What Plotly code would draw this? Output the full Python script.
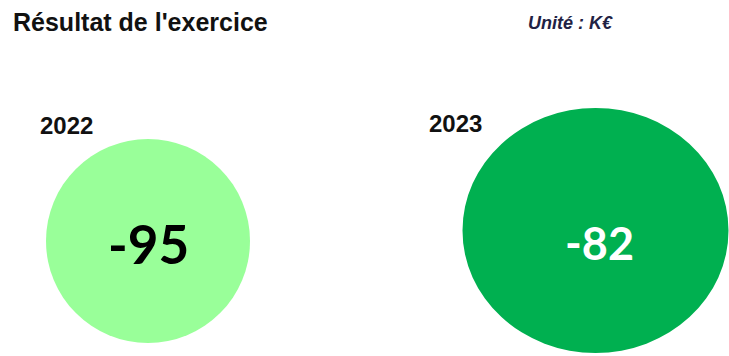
import plotly.graph_objects as go

years = ["2022", "2023"]
values = [-95, -82]
fill_colors = ["#99FF99", "#00B050"]
value_colors = ["#000000", "#FFFFFF"]
title_text = "Résultat de l'exercice"
unit_text = "Unité : K€"

W, H = 729, 356
# bubble geometry (pixel space): cx, cy, rx, ry
geom = [(148, 241, 102, 102), (595.5, 230.5, 133, 122.5)]
year_pos = [(66, 125), (455, 123)]
value_pos = [(148, 243), (599, 243)]
value_sizes = [53, 45]

fig = go.Figure()
shapes = []
annotations = []
for i, (yr, v) in enumerate(zip(years, values)):
    cx, cy, rx, ry = geom[i]
    shapes.append(dict(type="circle", xref="x", yref="y",
                       x0=cx - rx, x1=cx + rx, y0=cy - ry, y1=cy + ry,
                       fillcolor=fill_colors[i], line=dict(width=0), layer="below"))
    annotations.append(dict(x=value_pos[i][0], y=value_pos[i][1], xref="x", yref="y",
                            text=f"<b>{v}</b>",
                            showarrow=False, xanchor="center", yanchor="middle",
                            font=dict(family="Lato", size=value_sizes[i], color=value_colors[i])))
    annotations.append(dict(x=year_pos[i][0], y=year_pos[i][1], xref="x", yref="y",
                            text=f"<b>{yr}</b>", showarrow=False,
                            xanchor="center", yanchor="middle",
                            font=dict(family="Liberation Sans", size=24, color="#111111")))

annotations.append(dict(x=11, y=22, xref="x", yref="y", text=f"<b>{title_text}</b>",
                        showarrow=False, xanchor="left", yanchor="middle",
                        font=dict(family="Liberation Sans", size=25, color="#111111")))
annotations.append(dict(x=570, y=23, xref="x", yref="y", text=f"<b><i>{unit_text}</i></b>",
                        showarrow=False, xanchor="center", yanchor="middle",
                        font=dict(family="Liberation Sans", size=18, color="#222244")))

# invisible trace to anchor axes
fig.add_trace(go.Scatter(x=[0, W], y=[0, H], mode="markers",
                         marker=dict(opacity=0), hoverinfo="skip", showlegend=False))

fig.update_layout(
    width=W, height=H,
    margin=dict(l=0, r=0, t=0, b=0),
    paper_bgcolor="white", plot_bgcolor="white",
    shapes=shapes, annotations=annotations,
    xaxis=dict(range=[0, W], visible=False, fixedrange=True),
    yaxis=dict(range=[H, 0], visible=False, fixedrange=True),
    showlegend=False,
)
fig.write_html("out.html")
